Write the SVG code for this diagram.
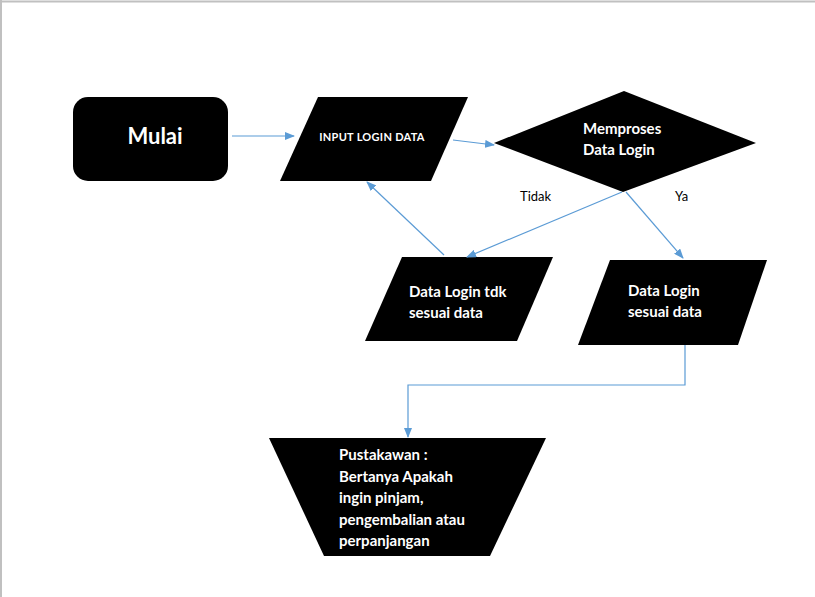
<svg xmlns="http://www.w3.org/2000/svg" width="815" height="597" viewBox="0 0 815 597">
<defs>
<marker id="ah" markerWidth="10" markerHeight="8" refX="9" refY="4" orient="auto" markerUnits="userSpaceOnUse">
<path d="M0,0 L10,4 L0,8 Z" fill="#5b9bd5"/>
</marker>
<style>
.shape{fill:#000}
.t{fill:#fff;font-family:Lato,"Open Sans","Liberation Sans",sans-serif;font-weight:bold}
.lbl{fill:#000;font-family:Lato,"Open Sans","Liberation Sans",sans-serif;font-size:13px}
.c{fill:none;stroke:#5b9bd5;stroke-width:1.2;marker-end:url(#ah)}
</style>
</defs>
<rect width="815" height="597" fill="#fff"/>
<path d="M0,1.5 H815 M1,0 V597" stroke="#c0c0c0" stroke-width="2"/>
<g id="mulai">
<rect class="shape" x="73" y="97" width="155" height="84" rx="15"/>
<text class="t" x="155" y="144" font-size="22" text-anchor="middle">Mulai</text>
</g>
<g id="input">
<polygon class="shape" points="318,97 468,97 431,181 280,181"/>
<text class="t" x="372" y="141" font-size="11" letter-spacing="0.3" text-anchor="middle">INPUT LOGIN DATA</text>
</g>
<g id="proses">
<polygon class="shape" points="494,143 624,91 756,143 623,192"/>
<text class="t" x="583" y="134" font-size="15">Memproses</text>
<text class="t" x="583" y="155" font-size="15">Data Login</text>
</g>
<g id="tidak-sesuai">
<polygon class="shape" points="402,257 553,257 517,341 365,341"/>
<text class="t" x="409" y="297" font-size="15">Data Login tdk</text>
<text class="t" x="409" y="318" font-size="15">sesuai data</text>
</g>
<g id="sesuai">
<polygon class="shape" points="610,260 767,260 738,345 578,345"/>
<text class="t" x="628" y="296" font-size="15">Data Login</text>
<text class="t" x="628" y="317" font-size="15">sesuai data</text>
</g>
<g id="pustakawan">
<polygon class="shape" points="269,438 546,438 490,556 324,556"/>
<text class="t" x="339" y="460" font-size="15">Pustakawan :</text>
<text class="t" x="339" y="482" font-size="15">Bertanya Apakah</text>
<text class="t" x="339" y="503" font-size="15">ingin pinjam,</text>
<text class="t" x="339" y="525" font-size="15">pengembalian atau</text>
<text class="t" x="339" y="546" font-size="15">perpanjangan</text>
</g>
<g id="labels">
<text class="lbl" x="520" y="201">Tidak</text>
<text class="lbl" x="675" y="201">Ya</text>
</g>
<g id="connectors">
<path class="c" d="M232,136 H294"/>
<path class="c" d="M453,140 L494,145"/>
<path class="c" d="M622,192 L467,257"/>
<path class="c" d="M626,192 L683,258"/>
<path class="c" d="M444,255 L367,182"/>
<path class="c" d="M685,345 V385 H408 V437"/>
</g>
</svg>
